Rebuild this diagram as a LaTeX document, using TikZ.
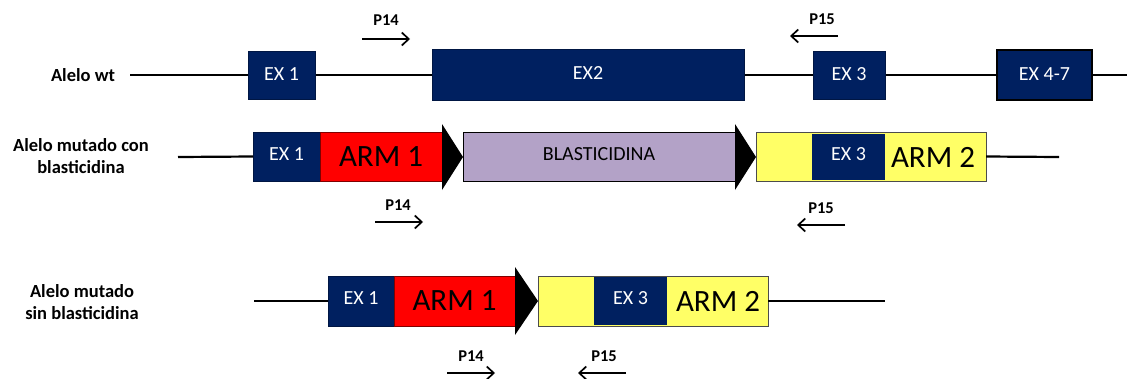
\documentclass[tikz,border=0pt]{standalone}
\usepackage{fontspec}
\setmainfont{Carlito}
\usetikzlibrary{arrows.meta}
\definecolor{navy}{HTML}{002060}
\definecolor{armred}{HTML}{FF0000}
\definecolor{lav}{HTML}{B3A2C7}
\definecolor{yel}{HTML}{FFFF66}
\begin{document}
\begin{tikzpicture}[x=1pt,y=-1pt,
  dna/.style={line width=2.2pt, black},
  exon/.style={fill=navy, draw=navy!70!black, line width=0.6pt, inner sep=0pt, outer sep=0pt, text=white, font=\fontsize{20}{22}\selectfont},
  redbox/.style={fill=armred, draw=armred!50!black, line width=0.6pt, inner sep=0pt, outer sep=0pt, font=\fontsize{31}{34}\selectfont},
  lavbox/.style={fill=lav, draw=black, line width=0.8pt, inner sep=0pt, outer sep=0pt, font=\fontsize{20}{22}\selectfont},
  yelbox/.style={fill=yel, draw=black!70, line width=0.8pt, inner sep=0pt, outer sep=0pt},
  armtext/.style={inner sep=0pt, font=\fontsize{31}{34}\selectfont},
  tri/.style={fill=black},
  primer/.style={line width=1.9pt, -{Straight Barb[length=7pt,width=13pt,line width=1.7pt]}},
  plabel/.style={font=\bfseries\fontsize{16.5}{18}\selectfont, inner sep=0pt},
  rowlabel/.style={font=\bfseries\fontsize{18.5}{22}\selectfont, align=center, inner sep=0pt}
]
\useasboundingbox (0,0) rectangle (1127,378);

% ---------- Row 1: Alelo wt ----------
\node[rowlabel] (lab1) at (83,75) {Alelo wt};
\coordinate (r1s) at (130,75);
\coordinate (r1e) at (1127,75);
\draw[dna] (r1s) -- (r1e);
\node[exon, minimum width=67pt, minimum height=48pt] (w1) at (281.5,75) {\raisebox{2pt}{EX 1}};
\node[exon, minimum width=312pt, minimum height=51pt] (w2) at (588,74.5) {\raisebox{2pt}{EX2}};
\node[exon, minimum width=72pt, minimum height=48pt] (w3) at (849,75) {\raisebox{2pt}{EX 3}};
\node[exon, draw=black, line width=1.4pt, minimum width=95pt, minimum height=50pt] (w4) at (1044.5,75) {\raisebox{2pt}{EX 4-7}};

\coordinate (p14a) at (362,39); \coordinate (p14b) at (410,39);
\draw[primer] (p14a) -- (p14b);
\node[plabel] (p14l) at (386,20) {P14};
\coordinate (p15a) at (838,36); \coordinate (p15b) at (790,36);
\draw[primer] (p15a) -- (p15b);
\node[plabel] (p15l) at (822,19) {P15};

% ---------- Row 2: Alelo mutado con blasticidina ----------
\node[rowlabel] (lab2) at (81,156) {Alelo mutado con\\blasticidina};
\coordinate (r2s) at (178,157);
\coordinate (r2e) at (1059,157);
\node[exon, minimum width=67pt, minimum height=49pt] (m1) at (286.5,156.5) {\raisebox{5pt}{EX 1}};
\node[redbox, minimum width=122pt, minimum height=49pt] (a1) at (381,156.5) {ARM 1};
\fill[tri] (442,124) -- (463,157) -- (442,190) -- cycle;
\node[lavbox, minimum width=272pt, minimum height=49pt] (bl) at (599,156.5) {\raisebox{5pt}{BLASTICIDINA}};
\fill[tri] (735,124) -- (756,157) -- (735,190) -- cycle;
\node[yelbox, minimum width=230pt, minimum height=49pt] (y2) at (871,156.5) {};
\node[exon, draw=none, minimum width=73pt, minimum height=46pt] (e3) at (848.5,157) {\raisebox{5pt}{EX 3}};
\node[armtext] (arm2a) at (933,157) {ARM 2};
\draw[dna] (r2s) -- (m1.west);
\draw[dna] (y2.east) -- (r2e);

\coordinate (q14a) at (375,222); \coordinate (q14b) at (423,222);
\draw[primer] (q14a) -- (q14b);
\node[plabel] (q14l) at (398,205) {P14};
\coordinate (q15a) at (845,225); \coordinate (q15b) at (797,225);
\draw[primer] (q15a) -- (q15b);
\node[plabel] (q15l) at (821,208) {P15};

% ---------- Row 3: Alelo mutado sin blasticidina ----------
\node[rowlabel] (lab3) at (82,302) {Alelo mutado\\sin blasticidina};
\coordinate (r3s) at (254,301);
\coordinate (r3e) at (885,301);
\node[exon, minimum width=66pt, minimum height=50pt] (n1) at (361,301) {\raisebox{5pt}{EX 1}};
\node[redbox, minimum width=121pt, minimum height=50pt] (a2) at (454.5,301) {ARM 1};
\fill[tri] (515,267) -- (538,301) -- (515,335) -- cycle;
\node[yelbox, minimum width=230pt, minimum height=50pt] (y3) at (653,301) {};
\node[exon, draw=none, minimum width=73pt, minimum height=48pt] (e3b) at (630.5,301) {\raisebox{5pt}{EX 3}};
\node[armtext] (arm2b) at (718,301) {ARM 2};
\draw[dna] (r3s) -- (n1.west);
\draw[dna] (y3.east) -- (r3e);

\coordinate (s14a) at (447,373); \coordinate (s14b) at (495,373);
\draw[primer] (s14a) -- (s14b);
\node[plabel] (s14l) at (471,356) {P14};
\coordinate (s15a) at (626,373); \coordinate (s15b) at (578,373);
\draw[primer] (s15a) -- (s15b);
\node[plabel] (s15l) at (604,356) {P15};
\end{tikzpicture}
\end{document}
